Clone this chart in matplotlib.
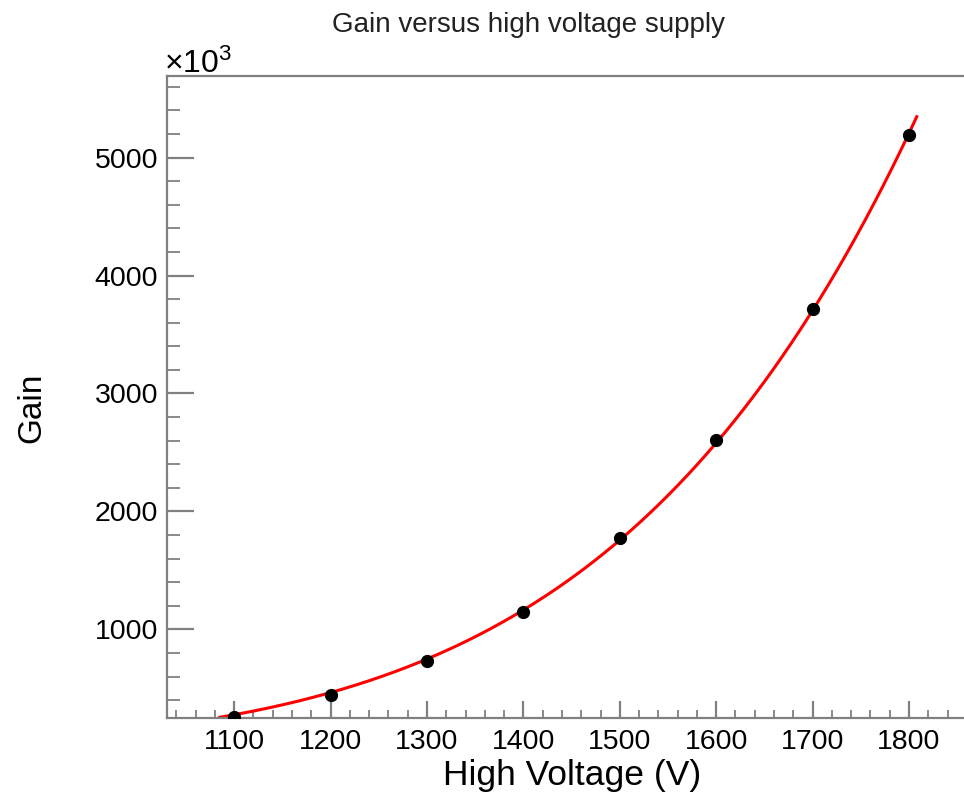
import numpy as np
import matplotlib.pyplot as plt
from matplotlib.ticker import MultipleLocator, FuncFormatter

plt.rcParams['font.family'] = ['Liberation Sans', 'DejaVu Sans']
plt.rcParams['mathtext.fontset'] = 'custom'
plt.rcParams['mathtext.rm'] = 'Liberation Sans'

# measured points (gain in units of 10^3)
voltage = np.array([1100, 1200, 1300, 1400, 1500, 1600, 1700, 1800])
gain = np.array([258, 444, 732, 1149, 1773, 2602, 3720, 5188])
fit_range = [1085, 1808]

# power law fit G = a * V^n, least squares roughly in linear space
n, log_a = np.polyfit(np.log(voltage), np.log(gain), 1, w=gain)
v_fit = np.linspace(fit_range[0], fit_range[1], 300)
g_fit = np.exp(log_a) * v_fit ** n

fig = plt.figure(figsize=(9.64, 7.97), dpi=100)
W, H = 964, 797
left, right, top, bottom = 166.7, 976.5, 76, 718.3
ax = fig.add_axes([left / W, 1 - bottom / H, (right - left) / W, (bottom - top) / H])

ax.plot(v_fit, g_fit, color='#ff0000', linewidth=2.2, zorder=2)
ax.plot(voltage, gain, 'o', color='black', markersize=8.5, zorder=3)

ax.set_xlim(1030, 1870)
ax.set_ylim(247, 5691)

ax.spines['right'].set_visible(False)
for s in ['left', 'top', 'bottom']:
    ax.spines[s].set_color('#808080')
    ax.spines[s].set_linewidth(1.6)

ax.xaxis.set_major_locator(MultipleLocator(100))
ax.xaxis.set_minor_locator(MultipleLocator(20))
ax.yaxis.set_major_locator(MultipleLocator(1000))
ax.yaxis.set_minor_locator(MultipleLocator(200))
ax.yaxis.set_major_formatter(FuncFormatter(lambda v, p: f'{int(v)}'))

ax.tick_params(axis='both', which='both', direction='in', colors='#808080',
               labelcolor='black', labelsize=20.5, width=1.6, top=False, right=False)
ax.tick_params(axis='x', which='major', length=12.2, pad=8)
ax.tick_params(axis='x', which='minor', length=5.8, width=1.3)
ax.tick_params(axis='y', which='major', length=19.4, pad=6)
ax.tick_params(axis='y', which='minor', length=9.4, width=1.3)

fig.text(572 / W, 1 - 775 / H, 'High Voltage (V)', fontsize=25.5, ha='center', va='center')
fig.text(32 / W, 1 - 408 / H, 'Gain', fontsize=24, ha='center', va='center', rotation=90)
fig.text(528 / W, 1 - 25 / H, 'Gain versus high voltage supply', fontsize=20,
         ha='center', va='center', color='#222222')
fig.text(164 / W, 1 - 73 / H, r'$\times\mathregular{10^3}$', fontsize=23,
         ha='left', va='baseline')

fig.savefig('out.png', dpi=100)
